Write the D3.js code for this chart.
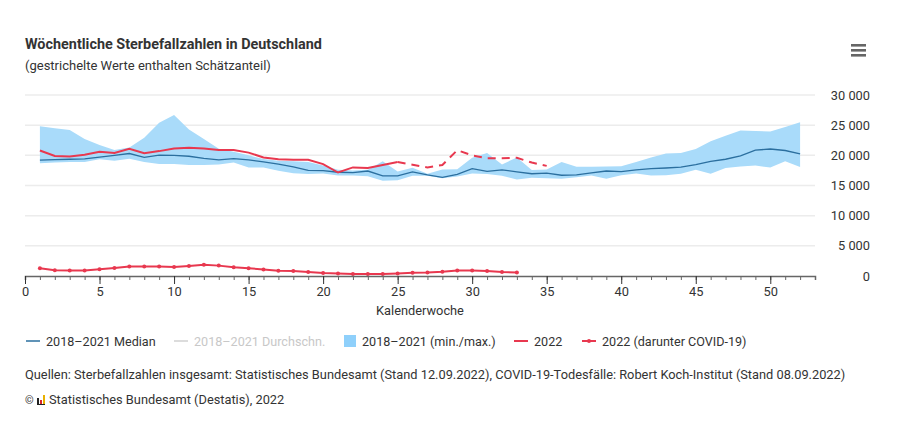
<!DOCTYPE html>
<html>
<head>
<meta charset="utf-8">
<script src="https://cdn.jsdelivr.net/npm/d3@7"></script>
<style>
	body { margin: 0; background: #fff; font-family: Roboto, "Noto Sans", sans-serif; }
	svg text { fill: #333; }
</style>
</head>
<body>
<div id="chart"></div>
<script>
// calendar weeks
var weeks = [1, 2, 3, 4, 5, 6, 7, 8, 9, 10, 11, 12, 13, 14, 15, 16, 17, 18, 19, 20, 21, 22, 23, 24, 25, 26,
	27, 28, 29, 30, 31, 32, 33, 34, 35, 36, 37, 38, 39, 40, 41, 42, 43, 44, 45, 46, 47, 48, 49, 50, 51, 52];

// 2018-2021 median
var median = [19200, 19300, 19350, 19400, 19700, 20000, 20300, 19650, 20050, 20000, 19850, 19500, 19250,
	19450, 19250, 18900, 18550, 18100, 17500, 17450, 17200, 17150, 17400, 16600, 16600, 17250,
	16750, 16350, 16850, 17800, 17350, 17600, 17250, 16950, 17050, 16700, 16750, 17100, 17400,
	17300, 17600, 17800, 17900, 18050, 18450, 19000, 19350, 19900, 20850, 21050, 20800, 20250];

// 2018-2021 min / max
var minVals = [18700, 18800, 18900, 18900, 19350, 19100, 19450, 18900, 18550, 18550, 18400, 18400, 18500,
	18800, 18000, 18000, 17450, 17050, 16900, 17000, 16650, 16650, 16550, 15800, 15850, 16600,
	16600, 16200, 16500, 17000, 16900, 16600, 16000, 16300, 16200, 16100, 16350, 16650, 16100,
	16700, 17000, 16650, 16700, 16950, 17600, 16950, 17900, 18150, 18300, 18000, 19000, 18050];
var maxVals = [24800, 24500, 24200, 22700, 21700, 20900, 21300, 22900, 25400, 26700, 24300, 22700, 21100,
	20600, 20000, 19400, 19100, 19000, 18900, 18300, 17600, 17500, 17600, 19000, 17300, 17950,
	16950, 17650, 17700, 19600, 20400, 18500, 19650, 17550, 17650, 18900, 18100, 18100, 18150,
	18200, 18900, 19650, 20300, 20400, 21050, 22350, 23250, 24100, 24050, 23950, 24700, 25500];

// 2022 deaths (weeks 25+ contain estimates -> dashed)
var deaths2022 = [20800, 19900, 19800, 20100, 20600, 20400, 21100, 20350, 20700, 21150, 21250, 21150, 20900,
	20900, 20450, 19650, 19350, 19250, 19250, 18550, 17150, 18000, 17900, 18400, 18900, 18450,
	18000, 18400, 20850, 20000, 19500, 19500, 19600, 18800, 18250];
var firstEstimateWeek = 25;

// 2022 COVID-19 deaths
var covid2022 = [1290, 970, 915, 915, 1130, 1345, 1560, 1560, 1560, 1505, 1670, 1880, 1720, 1450, 1290,
	1075, 860, 810, 680, 485, 430, 320, 320, 320, 430, 540, 590, 700, 915, 915, 810, 645, 590];

var yTicks = [0, 5000, 10000, 15000, 20000, 25000, 30000];
var xTicks = [0, 5, 10, 15, 20, 25, 30, 35, 40, 45, 50];

var colors = {
	band: "#a9dbfa",
	median: "#2b6f9f",
	mean: "#dcdcdc",
	y2022: "#e8384f",
	grid: "#ececec",
	axis: "#666"
};

var width = 914, height = 430;
var fontSize = "12.8px";

var svg = d3.select("#chart").append("svg")
	.attr("width", width)
	.attr("height", height);

// titles
svg.append("text")
	.attr("x", 25).attr("y", 49)
	.style("font-size", "14.4px").style("font-weight", "bold")
	.text("Wöchentliche Sterbefallzahlen in Deutschland");
svg.append("text")
	.attr("x", 25).attr("y", 70)
	.style("font-size", "13px")
	.text("(gestrichelte Werte enthalten Schätzanteil)");

// hamburger menu
[0, 5, 10].forEach(function(dy){
	svg.append("rect")
		.attr("x", 851).attr("y", 44 + dy)
		.attr("width", 15).attr("height", 2.6)
		.attr("fill", "#666");
});

var x = d3.scaleLinear().domain([0, 53]).range([25, 815]);
var y = d3.scaleLinear().domain([0, 30000]).range([276, 95]);

var fmt = d3.formatLocale({decimal: ",", thousands: "\u00a0", grouping: [3], currency: ["", "€"]}).format(",d");

// grid lines
svg.append("g")
	.selectAll("line")
	.data(yTicks.filter(function(d){ return d > 0; }))
	.join("line")
		.attr("x1", x(0)).attr("x2", x(53))
		.attr("y1", function(d){ return y(d); })
		.attr("y2", function(d){ return y(d); })
		.attr("stroke", colors.grid)
		.attr("stroke-width", 1.5);

// y axis labels (right side)
var yAxis = d3.axisRight(y).tickValues(yTicks).tickSize(0).tickFormat(fmt);
var yG = svg.append("g")
	.attr("transform", "translate(870,0)")
	.call(yAxis);
yG.select(".domain").remove();
yG.selectAll("text")
	.attr("x", 0)
	.attr("text-anchor", "end")
	.style("font-size", fontSize)
	.style("font-family", "Roboto, sans-serif")
	.style("fill", "#333");

// min / max band
var band = d3.area()
	.x(function(d, i){ return x(weeks[i]); })
	.y0(function(d, i){ return y(minVals[i]); })
	.y1(function(d, i){ return y(maxVals[i]); });
svg.append("path")
	.datum(weeks)
	.attr("d", band)
	.attr("fill", colors.band);

// median
var line = d3.line()
	.x(function(d){ return x(d[0]); })
	.y(function(d){ return y(d[1]); });
svg.append("path")
	.datum(weeks.map(function(w, i){ return [w, median[i]]; }))
	.attr("d", line)
	.attr("fill", "none")
	.attr("stroke", colors.median)
	.attr("stroke-width", 1.3);

// 2022 totals: solid then dashed
var pts2022 = deaths2022.map(function(v, i){ return [weeks[i], v]; });
svg.append("path")
	.datum(pts2022.filter(function(d){ return d[0] <= firstEstimateWeek; }))
	.attr("d", line)
	.attr("fill", "none")
	.attr("stroke", colors.y2022)
	.attr("stroke-width", 2);
svg.append("path")
	.datum(pts2022.filter(function(d){ return d[0] >= firstEstimateWeek; }))
	.attr("d", line)
	.attr("fill", "none")
	.attr("stroke", colors.y2022)
	.attr("stroke-width", 2)
	.attr("stroke-dasharray", "8,6");

// 2022 covid
var ptsCovid = covid2022.map(function(v, i){ return [weeks[i], v]; });
svg.append("path")
	.datum(ptsCovid)
	.attr("d", line)
	.attr("fill", "none")
	.attr("stroke", colors.y2022)
	.attr("stroke-width", 2);
svg.append("g")
	.selectAll("circle")
	.data(ptsCovid)
	.join("circle")
		.attr("cx", function(d){ return x(d[0]); })
		.attr("cy", function(d){ return y(d[1]); })
		.attr("r", 2)
		.attr("fill", colors.y2022);

// x axis with minor and major ticks
var xG = svg.append("g").attr("transform", "translate(0," + y(0) + ")");
xG.call(d3.axisBottom(x).tickValues(d3.range(0, 54)).tickSize(4).tickFormat(""));
xG.call(function(g){
	g.select(".domain").attr("stroke", colors.axis).attr("stroke-width", 1.5);
	g.selectAll(".tick line").attr("stroke", colors.axis);
});
var xMajor = svg.append("g").attr("transform", "translate(0," + y(0) + ")")
	.call(d3.axisBottom(x).tickValues(xTicks).tickSize(8).tickPadding(3));
xMajor.select(".domain").remove();
xMajor.selectAll(".tick line").attr("stroke", "#333");
xMajor.selectAll("text")
	.style("font-size", fontSize)
	.style("font-family", "Roboto, sans-serif")
	.style("fill", "#333");

svg.append("text")
	.attr("x", 420).attr("y", 315)
	.attr("text-anchor", "middle")
	.style("font-size", fontSize)
	.text("Kalenderwoche");

// legend
var legend = [
	{label: "2018–2021 Median", type: "line", color: colors.median, x: 26, text: "#333"},
	{label: "2018–2021 Durchschn.", type: "line", color: colors.mean, x: 174, text: "#c8c8c8"},
	{label: "2018–2021 (min./max.)", type: "rect", color: "#8fd0fb", x: 344, text: "#333"},
	{label: "2022", type: "line", color: colors.y2022, x: 514, text: "#333"},
	{label: "2022 (darunter COVID-19)", type: "dot", color: colors.y2022, x: 582, text: "#333"}
];
var lg = svg.append("g").attr("transform", "translate(0,341)");
legend.forEach(function(l){
	if (l.type == "rect"){
		lg.append("rect").attr("x", l.x).attr("y", -6).attr("width", 12).attr("height", 12).attr("fill", l.color);
	} else {
		lg.append("line").attr("x1", l.x).attr("x2", l.x + 14).attr("y1", 0).attr("y2", 0)
			.attr("stroke", l.color).attr("stroke-width", l.type == "line" && l.color == colors.median ? 1.5 : 2);
		if (l.type == "dot"){
			lg.append("circle").attr("cx", l.x + 7).attr("cy", 0).attr("r", 2).attr("fill", l.color);
		}
	}
	lg.append("text")
		.attr("x", l.x + (l.type == "rect" ? 18 : 20)).attr("y", 4.5)
		.style("font-size", "12.6px")
		.style("fill", l.text)
		.text(l.label);
});

// sources
svg.append("text")
	.attr("x", 25).attr("y", 379)
	.style("font-size", fontSize)
	.text("Quellen: Sterbefallzahlen insgesamt: Statistisches Bundesamt (Stand 12.09.2022), COVID-19-Todesfälle: Robert Koch-Institut (Stand 08.09.2022)");

// copyright with small logo
svg.append("text")
	.attr("x", 25).attr("y", 404)
	.style("font-size", "11px")
	.text("©");
var logo = svg.append("g").attr("transform", "translate(37,395)");
logo.append("rect").attr("x", 0).attr("y", 3).attr("width", 2).attr("height", 6).attr("fill", "#222");
logo.append("rect").attr("x", 3).attr("y", 5).attr("width", 2).attr("height", 4).attr("fill", "#d9262c");
logo.append("rect").attr("x", 6).attr("y", 0).attr("width", 2).attr("height", 9).attr("fill", "#e8b000");
logo.append("rect").attr("x", 0).attr("y", 9).attr("width", 8).attr("height", 1).attr("fill", "#222");
svg.append("text")
	.attr("x", 49).attr("y", 404)
	.style("font-size", fontSize)
	.text("Statistisches Bundesamt (Destatis), 2022");
</script>
</body>
</html>
